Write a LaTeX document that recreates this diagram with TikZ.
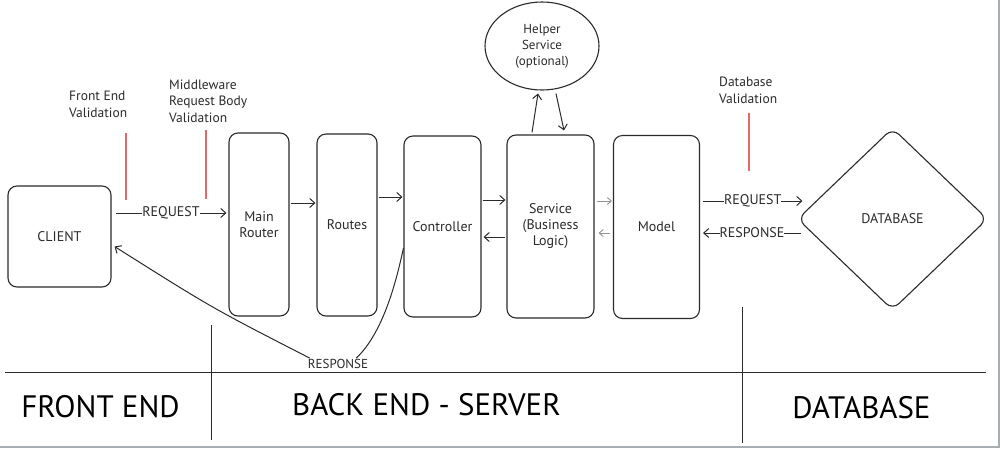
\documentclass[tikz,border=0pt]{standalone}
\usepackage{fontspec}
\setmainfont{PT Sans}
\usetikzlibrary{arrows.meta,shapes.geometric,calc}
\definecolor{ink}{HTML}{2B2B2B}
\definecolor{redline}{HTML}{E06A6A}
\definecolor{framegray}{HTML}{A8AFB2}
\begin{document}
\begin{tikzpicture}[x=1pt,y=-1pt,
 box/.style={draw=ink, line width=1.1pt, rounded corners=9pt, inner sep=0pt, align=center, font=\fontsize{14}{16}\selectfont, text=ink},
 lbl/.style={font=\fontsize{13.5}{16.5}\selectfont, text=ink, align=left, inner sep=0pt},
 arr/.style={draw=ink, line width=1pt, -{Straight Barb[length=5pt,width=9pt]}},
 garr/.style={draw=gray!85, line width=0.9pt, -{Straight Barb[length=4pt,width=7pt]}},
 redmark/.style={draw=redline, line width=1.3pt},
 sepline/.style={draw=ink, line width=1pt},
 zone/.style={font=\fontsize{31}{33}\selectfont, text=black, inner sep=0pt}
]
\useasboundingbox (0,0) rectangle (1000,448);
\fill[white] (0,0) rectangle (1000,448);
\fill[framegray] (998,0) rectangle (1000,448);
\fill[framegray] (0,446) rectangle (1000,448);

% nodes
\node[box, minimum width=103pt, minimum height=101pt] (client) at (59.5,236.5) {CLIENT};
\node[box, minimum width=60pt, minimum height=183pt] (router) at (259,224.5) {Main\\Router};
\node[box, minimum width=60pt, minimum height=182pt] (routes) at (347,225) {Routes};
\node[box, minimum width=77pt, minimum height=181pt] (ctrl) at (442.5,226.5) {Controller};
\node[box, minimum width=87pt, minimum height=183pt] (svc) at (550.5,226.5) {Service\\(Business\\Logic)};
\node[box, minimum width=86pt, minimum height=183pt] (model) at (656.5,227) {Model};
\node[draw=ink, line width=1.1pt, ellipse, minimum width=114pt, minimum height=88pt, inner sep=0pt, align=center, font=\fontsize{13}{16}\selectfont, text=ink] (helper) at (542,46) {Helper\\Service\\(optional)};
\node[diamond, draw=ink, line width=1.1pt, rounded corners=9pt, minimum width=190pt, minimum height=182pt, inner sep=0pt, font=\fontsize{14}{16}\selectfont, text=ink] (db) at (892.5,219) {DATABASE};
\node[lbl, font=\fontsize{13}{14}\selectfont] (resp) at (338,364) {RESPONSE};

% validation labels
\node[lbl, anchor=west] (fev) at (69,104.5) {Front End\\Validation};
\node[lbl, anchor=west] (mwv) at (169,101) {Middleware\\Request Body\\Validation};
\node[lbl, anchor=west] (dbv) at (719,90.5) {Database\\Validation};

% red markers
\draw[redmark] (126,133) -- (126,200);
\draw[redmark] (206,130) -- (206,199);
\draw[redmark] (749,113) -- (749,171);

% connectors
\draw[arr] ($(client.east)+(4,-23.5)$) -- node[fill=white, inner sep=1pt, lbl, font=\fontsize{14}{16}\selectfont] {REQUEST} ($(router.west)+(-2,-11.5)$);
\draw[arr] ($(router.east)+(1,-21.5)$) -- ($(routes.west)+(-1,-22)$);
\draw[arr] ($(routes.east)+(1,-28)$) -- ($(ctrl.west)+(-1,-29.5)$);
\draw[arr] ($(ctrl.east)+(1,-26.5)$) -- ($(svc.west)+(-1,-26.5)$);
\draw[arr] ($(svc.west)+(-1,10.5)$) -- ($(ctrl.east)+(2,10.5)$);
\draw[garr] ($(svc.east)+(2,-25.5)$) -- ($(model.west)+(-1,-26)$);
\draw[garr] ($(model.west)+(-3,6)$) -- ($(svc.east)+(4,6.5)$);
\draw[arr] ($(svc.north)+(-18.5,-2)$) -- ($(helper.south)+(-4,3)$);
\draw[arr] ($(helper.south)+(14,3)$) -- ($(svc.north)+(13.5,-4)$);
\draw[arr] ($(model.east)+(3,-26)$) -- node[fill=white, inner sep=1pt, lbl, font=\fontsize{14}{16}\selectfont] {REQUEST} ($(db.west)+(5.5,-18)$);
\draw[arr] ($(db.west)+(4,14)$) -- node[fill=white, inner sep=1pt, lbl, font=\fontsize{14}{16}\selectfont] {RESPONSE} ($(model.east)+(3,6)$);
\draw[ink, line width=1pt] ($(ctrl.west)+(0,21.5)$) .. controls (397,278) and (384,332) .. ($(resp.north east)+(-12,-1)$);
\draw[arr] ($(resp.north west)+(2,-1)$) .. controls (212,308) .. ($(client.east)+(3,10)$);

% zone separators
\draw[sepline] (5,372) -- (986,372);
\draw[sepline] (211,325) -- (211,440);
\draw[sepline] (742,307) -- (742,443);

% zone labels
\node[zone] (zfe) at (100.5,407) {FRONT END};
\node[zone] (zbe) at (426.5,405) {BACK END - SERVER};
\node[zone] (zdb) at (861.5,408) {DATABASE};
\end{tikzpicture}
\end{document}
